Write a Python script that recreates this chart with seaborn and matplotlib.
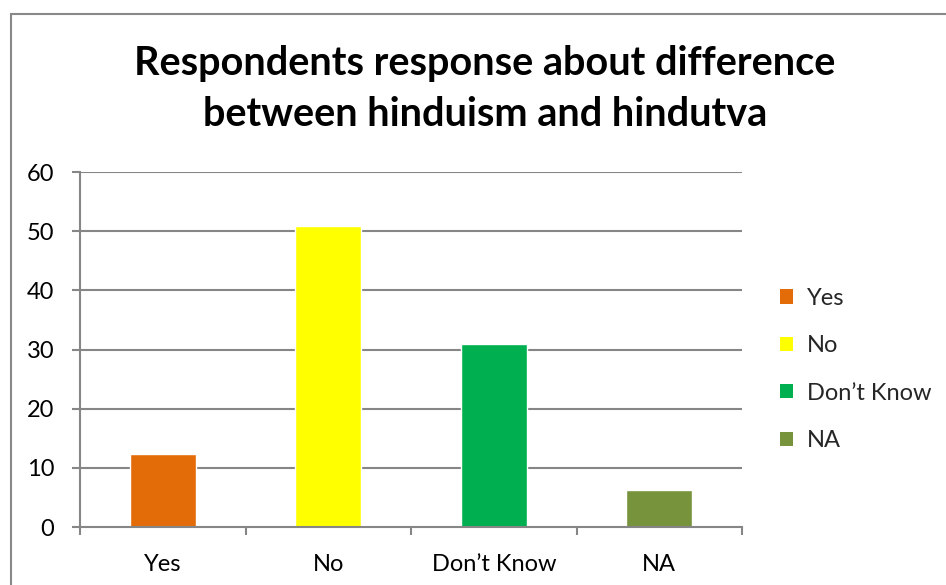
import matplotlib
matplotlib.use("Agg")
import matplotlib.pyplot as plt
import seaborn as sns
import pandas as pd
from matplotlib.patches import Rectangle, Patch

categories = ["Yes", "No", "Don\u2019t Know", "NA"]
values = [12.3, 50.9, 30.9, 6.2]
colors = ["#E36C09", "#FFFF00", "#00B050", "#77933C"]
yticks = [0, 10, 20, 30, 40, 50, 60]
title = "Respondents response about difference\nbetween hinduism and hindutva"

sns.set_theme(style="white")
plt.rcParams["font.family"] = ["Lato", "DejaVu Sans"]

W, H = 946, 585
fig = plt.figure(figsize=(W / 100, H / 100), dpi=100)
fig.patch.set_facecolor("white")

# axes placement in pixels
left, right, top, bottom = 80, 742, 172, 527
ax = fig.add_axes([left / W, 1 - bottom / H, (right - left) / W, (bottom - top) / H])

df = pd.DataFrame({"cat": categories, "val": values})
sns.barplot(data=df, x="cat", y="val", hue="cat", palette=colors,
            width=0.4, dodge=False, legend=False, ax=ax, saturation=1)

ax.set_ylim(0, 60)
ax.set_xlim(-0.5, len(categories) - 0.5)
ax.set_yticks(yticks)
ax.set_yticklabels([str(t) for t in yticks], fontsize=17, color="black")
ax.set_xticks(range(len(categories)))
ax.set_xticklabels(categories, fontsize=17, color="black")
ax.set_xlabel("")
ax.set_ylabel("")

grid_c = "#868686"
for t in yticks[1:]:
    ax.axhline(t, color=grid_c, lw=1.5, zorder=0)
ax.set_axisbelow(True)

for s in ["top", "right"]:
    ax.spines[s].set_visible(False)
for s in ["left", "bottom"]:
    ax.spines[s].set_color(grid_c)
    ax.spines[s].set_linewidth(1.5)

# y ticks
ax.tick_params(axis="y", which="major", direction="out", length=6, width=1.5,
               color=grid_c, left=True, pad=12.5)
# x: hide major ticks, use minor ticks at boundaries
ax.tick_params(axis="x", which="major", length=0, pad=19.5)
ax.set_xticks([i - 0.5 for i in range(len(categories) + 1)], minor=True)
ax.tick_params(axis="x", which="minor", direction="out", length=6, width=1.5,
               color=grid_c, bottom=True)

# title
fig.text(485 / W, 1 - 89 / H, title, ha="center", va="center",
         fontsize=28.5, fontweight="bold", color="black", linespacing=1.5)

# legend
handles = [Patch(facecolor=c, edgecolor="none", label=l) for c, l in zip(colors, categories)]
leg = fig.legend(handles=handles, loc="center left", bbox_to_anchor=(768 / W, 1 - 369.5 / H),
                 frameon=False, fontsize=17, handlelength=0.55, handleheight=0.55,
                 labelspacing=1.12, handletextpad=0.6, borderpad=0)

# outer chart border (cropped)
fig.patches.append(Rectangle((11 / W, -0.05), 1.1, 1 - 14 / H + 0.05, transform=fig.transFigure,
                             fill=False, edgecolor="#888888", lw=1.5))

fig.savefig("out.png", dpi=100)
